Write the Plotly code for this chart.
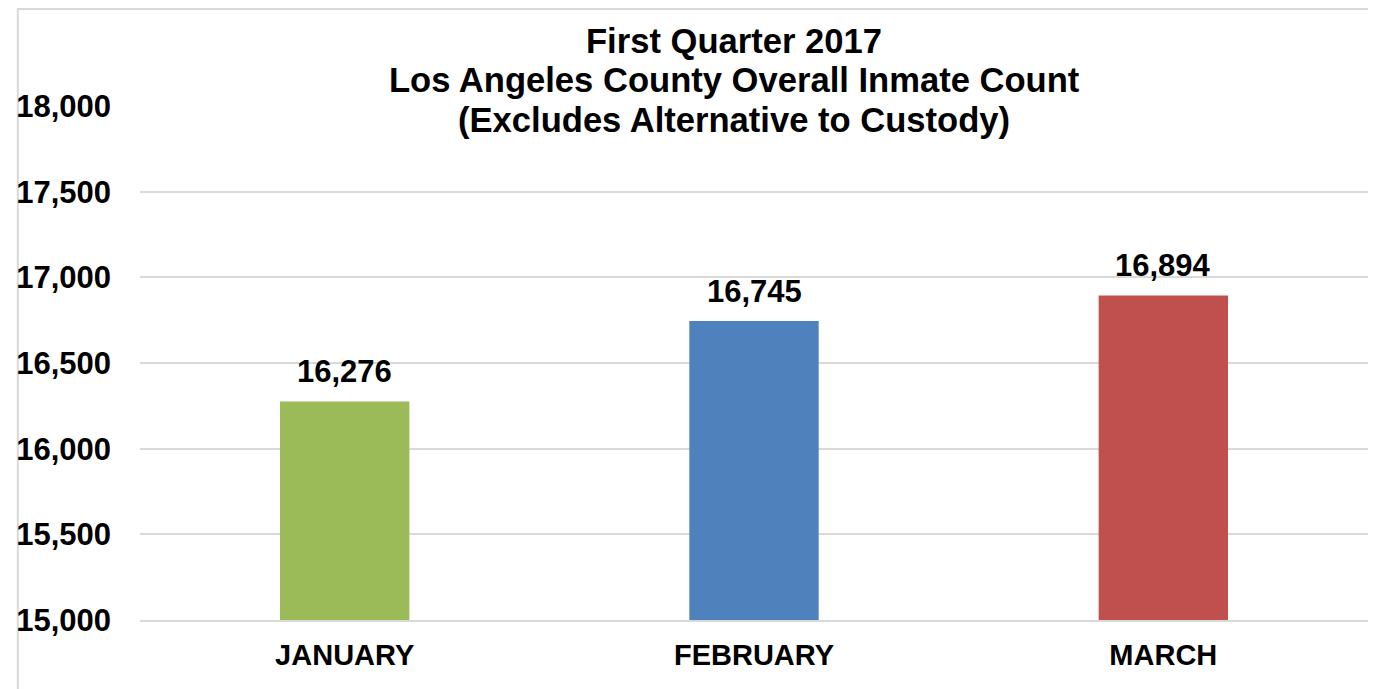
import plotly.graph_objects as go

months = ["JANUARY", "FEBRUARY", "MARCH"]
counts = [16276, 16745, 16894]
colors = ["#9BBB59", "#4F81BD", "#C0504D"]
y_ticks = [15000, 15500, 16000, 16500, 17000, 17500, 18000]
title_lines = ["First Quarter 2017", "Los Angeles County Overall Inmate Count",
               "(Excludes Alternative to Custody)"]

FONT = "Liberation Sans, Arial, sans-serif"
# page body has an 8px margin, so the figure is sized/positioned to compensate
W, H = 1368, 681
L, R, T, B = 124, 8, 98, 69
pw, ph = W - L - R, H - T - B


def px_x(px):
    return (px - L) / pw


def px_y(py):
    return (H - B - py) / ph


fig = go.Figure()
fig.add_trace(go.Bar(
    x=months, y=counts, marker=dict(color=colors, line=dict(width=0)),
    width=0.316, hoverinfo="x+y",
))

annotations = []
for m, v in zip(months, counts):
    annotations.append(dict(
        x=m, y=v, xref="x", yref="y", text=f"{v:,}", showarrow=False,
        xanchor="center", yanchor="bottom", yshift=10,
        font=dict(family=FONT, size=31, color="#000000", weight="bold"),
    ))

title_baselines = [52, 91, 131]  # screen pixel baselines of title lines
for line, base in zip(title_lines, title_baselines):
    annotations.append(dict(
        x=px_x(722), y=px_y(base - 8 - 11), xref="paper", yref="paper",
        text=line, showarrow=False, xanchor="center", yanchor="middle",
        font=dict(family=FONT, size=34.6, color="#000000", weight="bold"),
    ))

fig.update_layout(
    width=W, height=H,
    margin=dict(l=L, r=R, t=T, b=B, pad=0),
    paper_bgcolor="white", plot_bgcolor="white",
    showlegend=False,
    annotations=annotations,
    xaxis=dict(
        showgrid=False, showline=True, linecolor="#D9D9D9", linewidth=2,
        tickfont=dict(family=FONT, size=29, color="#000000", weight="bold"),
        ticks="", ticklabelstandoff=8,
    ),
    yaxis=dict(
        range=[15000, 18000], tickvals=y_ticks,
        ticktext=[f"{v:,}" for v in y_ticks],
        showgrid=True, gridcolor="#D9D9D9", gridwidth=2,
        zeroline=False, showline=False, ticks="",
        ticklabelstandoff=28,
        tickfont=dict(family=FONT, size=31, color="#000000", weight="bold"),
    ),
    shapes=[dict(
        type="rect", xref="paper", yref="paper",
        x0=px_x(1), x1=px_x(1364), y0=px_y(720), y1=px_y(1),
        line=dict(color="#D9D9D9", width=2), fillcolor="rgba(0,0,0,0)",
        layer="below",
    )],
)

fig.write_html("out.html")
